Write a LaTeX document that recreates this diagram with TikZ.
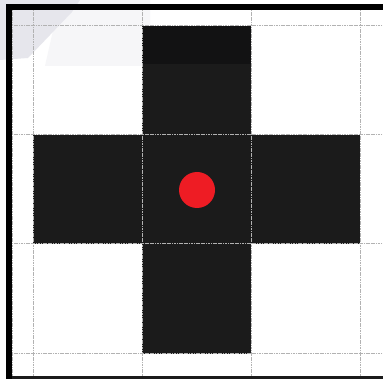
\documentclass[tikz,border=0pt]{standalone}
\definecolor{cellblack}{RGB}{27,27,27}
\definecolor{topdark}{RGB}{18,18,19}
\definecolor{dotred}{RGB}{238,28,36}
\definecolor{gridgray}{RGB}{178,178,178}
\definecolor{haze}{RGB}{230,230,236}
\definecolor{hazelight}{RGB}{246,246,248}
\tikzset{
  gridline/.style={draw=gridgray, line width=1pt, dash pattern=on 1.2pt off 0.5pt},
  cell/.style={fill=cellblack},
  framebar/.style={fill=black}
}
\begin{document}
\begin{tikzpicture}[x=1pt,y=-1pt]
\useasboundingbox (0,0) rectangle (383,379);
\fill[white] (0,0) rectangle (383,379);
% screenshot haze top-left
\fill[hazelight] (60,0) -- (150,0) -- (150,66) -- (45,66) -- cycle;
\fill[haze] (0,0) -- (80,0) -- (72,12) -- (50,35) -- (28,58) -- (0,60) -- cycle;
% black cells
\fill[cell] (142,26) rectangle (251,135);
\fill[topdark] (142,26) rectangle (251,64);
\fill[cell] (33,135) rectangle (360,244);
\fill[cell] (142,244) rectangle (251,354);
% grid
\foreach \x in {12,33,142,251,360} \draw[gridline] (\x,10) -- (\x,376);
\foreach \y in {10,26,135,244,354} \draw[gridline] (12,\y) -- (383,\y);
% frame
\fill[framebar] (6,4) rectangle (12,379);
\fill[framebar] (6,4) rectangle (383,10);
\fill[cellblack] (12,376) rectangle (383,379);
% red dot
\node[circle, fill=dotred, minimum size=36pt, inner sep=0pt] (dot) at (197,190) {};
\end{tikzpicture}
\end{document}
